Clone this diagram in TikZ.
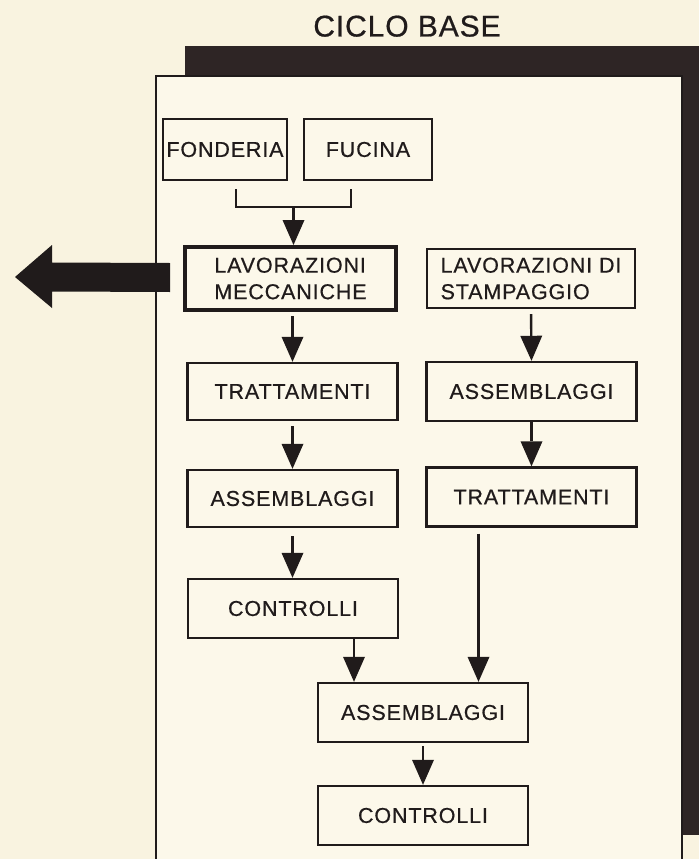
\documentclass[tikz,border=0pt]{standalone}
\usepackage{fontspec}
\setmainfont{Liberation Sans}
\newfontfamily\stagefamily[LetterSpace=4,FakeBold=0.6]{Liberation Sans}
\newfontfamily\titlefamily[LetterSpace=3,FakeBold=0.6]{Liberation Sans}
\usetikzlibrary{arrows.meta,calc}

\definecolor{paper}{RGB}{249,243,224}
\definecolor{panel}{RGB}{252,248,234}
\definecolor{panelshadow}{RGB}{46,37,37}
\definecolor{ink}{RGB}{32,27,27}

\begin{document}
\begin{tikzpicture}[x=1pt,y=-1pt,
  stage/.style={draw=ink, line width=2.4pt, fill=panel, text=ink,
    minimum width=210pt, minimum height=59pt, inner sep=0pt, align=left,
    font={\stagefamily\fontsize{21.5}{26.5}\selectfont}},
  heavystage/.style={stage, line width=4pt},
  flow/.style={draw=ink, line width=2.4pt,
    -{Triangle[width=22pt,length=25pt,line width=0pt]}},
  wire/.style={draw=ink, line width=2.4pt},
]
\useasboundingbox (0,0) rectangle (699,859);
\fill[paper] (0,0) rectangle (699,859);

% panel with its dark shadow
\fill[panelshadow] (185,46) rectangle (699,835);
\draw[ink, line width=2.5pt, fill=panel] (156,875) -- (156,76) -- (682,76) -- (682,875);

% title
\node[anchor=base, text=ink, font={\titlefamily\fontsize{30}{36}\selectfont}]
  (title) at (407,36.5) {CICLO BASE};

% stages
\node[stage, minimum width=124pt, minimum height=61pt] (fonderia) at (225,149.5) {FONDERIA};
\node[stage, minimum width=128pt, minimum height=61pt] (fucina) at (368,149.5) {FUCINA};

\node[heavystage, minimum width=211pt, minimum height=63pt] (lavmecc) at (290.5,278.5)
  {LAVORAZIONI\\MECCANICHE};
\node[stage, minimum width=208pt] (lavstamp) at (531,278.5)
  {LAVORAZIONI DI\\STAMPAGGIO};

\node[stage, minimum height=57pt] (tratl) at (292.5,391.5) {TRATTAMENTI};
\node[stage] (assemr) at (531.5,391.5) {ASSEMBLAGGI};

\node[stage, minimum height=57pt] (asseml) at (292.5,498.5) {ASSEMBLAGGI};
\node[stage] (tratr) at (531.5,497) {TRATTAMENTI};

\node[stage] (contl) at (293,608.5) {CONTROLLI};

\node[stage] (assemb) at (423,712.5) {ASSEMBLAGGI};
\node[stage] (contb) at (423,815.5) {CONTROLLI};

% joining FONDERIA and FUCINA
\coordinate (bracketL) at ($(fonderia.south)+(11,8)$);
\coordinate (bracketR) at ($(fucina.south)+(-17,8)$);
\coordinate (join) at ($(bracketL)!0.5!(bracketR)+(0,18)$);
\draw[wire] (bracketL) |- (join -| bracketR) -- (bracketR);
\draw[flow] (join) -- (join |- lavmecc.north);

% left column
\draw[flow, shorten <=4pt] (tratl.north |- lavmecc.south) -- (tratl.north);
\draw[flow, shorten <=5pt] (tratl.south) -- (asseml.north);
\draw[flow, shorten <=8pt] (asseml.south) -- (asseml.south |- contl.north);
\coordinate (c2a) at ($(contl.south)+(61,0)$);
\draw[flow] (c2a) -- (c2a |- assemb.north);

% right column
\draw[flow, shorten <=5pt] (lavstamp.south) -- (assemr.north);
\draw[flow] (assemr.south) -- (tratr.north);
\coordinate (t2a) at ($(tratr.south)+(-53,6)$);
\draw[flow] (t2a) -- (t2a |- assemb.north);

% final stage
\draw[flow, shorten <=3pt] (assemb.south) -- (contb.north);

% large exit arrow
\coordinate (exitstart) at ($(lavmecc.west)+(-13,-1)$);
\coordinate (exittip) at (15,277);
\fill[ink, line join=round]
  ($(exitstart)+(0,-14.5)$) -- ($(exittip)+(37,-14.5)$) -- ($(exittip)+(37,-32)$)
  -- (exittip) -- ($(exittip)+(37,31)$) -- ($(exittip)+(37,14.5)$)
  -- ($(exitstart)+(0,14.5)$) -- cycle;
\end{tikzpicture}
\end{document}
